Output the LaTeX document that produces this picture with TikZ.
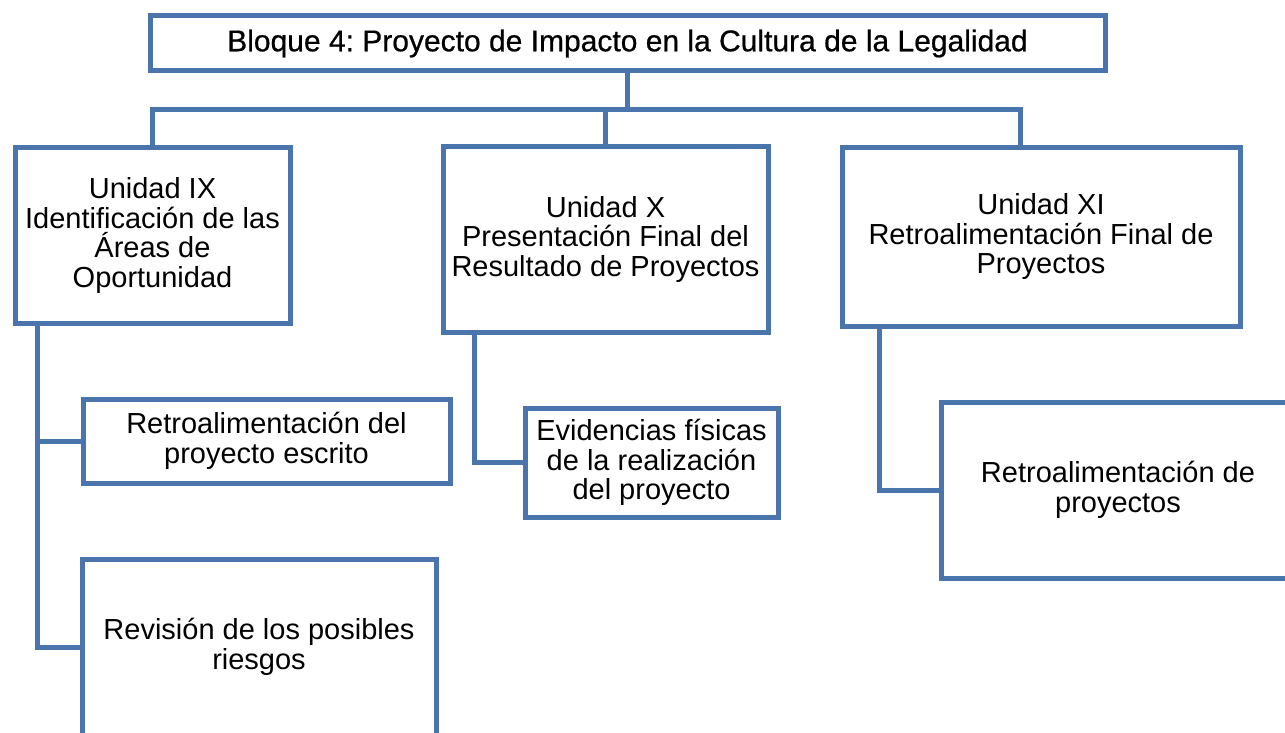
\documentclass[tikz,border=0pt]{standalone}
\usepackage{fontspec}
\setmainfont{Liberation Sans}
\newfontfamily\titlefont[FakeBold=0.6]{Liberation Sans}
\definecolor{boxblue}{RGB}{74,117,172}
\begin{document}
\frenchspacing
\begin{tikzpicture}[x=1pt,y=-1pt,
  box/.style={draw=boxblue, line width=5pt, fill=white, rectangle, inner sep=0pt, align=center,
    font=\fontsize{29}{29.5}\selectfont},
  conn/.style={draw=boxblue, line width=5pt}]
\useasboundingbox (0,0) rectangle (1285,733);
\clip (0,0) rectangle (1285,733);
\coordinate (bus) at (0,110);
\node[box, minimum width=955pt, minimum height=55pt, font=\titlefont\fontsize{30}{30}\selectfont] (title) at (627.5,43.5) {\raisebox{-2pt}{Bloque 4: Proyecto de Impacto en la Cultura de la Legalidad}};
\node[box, minimum width=275pt, minimum height=175pt] (u9) at (152.5,235.5) {Unidad IX\\Identificación de las\\Áreas de\\Oportunidad};
\node[box, minimum width=325pt, minimum height=185pt] (u10) at (605.5,239.5) {Unidad X\\Presentación Final del\\Resultado de Proyectos};
\node[box, minimum width=398pt, minimum height=178pt] (u11) at (1041,237) {Unidad XI\\Retroalimentación Final de\\Proyectos};
\node[box, minimum width=367pt, minimum height=84pt] (c1) at (266.5,441) {Retroalimentación del\\proyecto escrito};
\node[box, minimum width=354pt, minimum height=176pt] (c2) at (259,647) {Revisión de los posibles\\riesgos};
\node[box, minimum width=253pt, minimum height=109pt] (c3) at (651.5,462.5) {Evidencias físicas\\de la realización\\del proyecto};
\node[box, minimum width=354pt, minimum height=176pt] (c4) at (1118,490) {Retroalimentación de\\proyectos};
\draw[conn] (title.south) -- (title.south |- bus);
\draw[conn] (u9.north) -- (u9.north |- bus) -| ([xshift=-21pt]u11.north);
\draw[conn] (u10.north) -- (u10.north |- bus);
\draw[conn] ([xshift=25pt]u9.south west) |- (c1.west);
\draw[conn] ([xshift=25pt]u9.south west) |- (c2.west);
\draw[conn] ([xshift=34pt]u10.south west) |- (c3.west);
\draw[conn] ([xshift=40pt]u11.south west) |- (c4.west);
\end{tikzpicture}
\end{document}
